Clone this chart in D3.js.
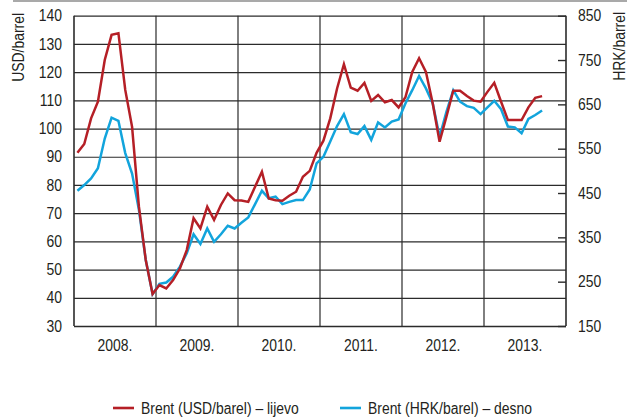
<!DOCTYPE html>
<html>
<head>
<meta charset="utf-8">
<script src="https://cdn.jsdelivr.net/npm/d3@7"></script>
<style>
  body { margin: 0; background: #fff; }
  text { font-family: 'Liberation Sans', Arial, sans-serif; fill: #231f20; }
</style>
</head>
<body>
<div id="chart"></div>
<script>
const years = ['2008.', '2009.', '2010.', '2011.', '2012.', '2013.']
const leftTicks = [30, 40, 50, 60, 70, 80, 90, 100, 110, 120, 130, 140]
const rightTicks = [150, 250, 350, 450, 550, 650, 750, 850]

// monthly averages, Jan 2008 - Sep 2013
const brentUsd = [
  91.4, 94.5, 103.6, 109.5, 124.3, 133.2, 133.8, 113.7, 100.6, 72.3, 53.4, 41.3,
  44.5, 43.3, 46.3, 50.4, 56.9, 68.2, 64.6, 72.3, 67.6, 72.9, 77.0, 74.6,
  74.5, 74.0, 79.4, 84.7, 75.2, 74.6, 74.4, 76.2, 77.6, 82.9, 85.0, 91.4,
  95.7, 103.6, 114.2, 122.8, 114.5, 113.4, 116.2, 109.8, 111.9, 109.3, 110.1, 107.5,
  111.1, 120.1, 124.9, 120.1, 108.9, 95.3, 104.2, 113.4, 113.4, 111.5, 109.9, 109.5,
  113.0, 116.2, 109.5, 103.0, 103.0, 103.0, 107.5, 110.9, 111.5
]
const brentHrk = [
  455, 468, 483, 506, 573, 620, 613, 540, 494, 412, 299, 222,
  245, 248, 261, 284, 314, 357, 335, 370, 340, 357, 376, 370,
  383, 395, 425, 455, 438, 442, 425, 430, 434, 434, 458, 517,
  532, 566, 601, 628, 587, 583, 601, 570, 609, 598, 611, 616,
  652, 682, 714, 686, 652, 577, 633, 682, 656, 646, 642, 628,
  643, 658, 639, 600, 598, 585, 617, 626, 636
]

// condensed look: Liberation Sans squeezed horizontally
const squeeze = 0.87

const margin = { top: 15.7, right: 72, bottom: 92, left: 74 }
const width = 638 - margin.left - margin.right
const height = 418 - margin.top - margin.bottom

const svg = d3.select('#chart')
  .append('svg')
  .attr('width', 638)
  .attr('height', 418)

// thin gray rule at the very top
svg.append('line')
  .attr('x1', 13).attr('x2', 627)
  .attr('y1', 1).attr('y2', 1)
  .attr('stroke', '#8c8c8c')
  .attr('stroke-width', 1.5)

const g = svg.append('g')
  .attr('transform', 'translate(' + margin.left + ',' + margin.top + ')')

const xScale = d3.scaleLinear().domain([0, years.length * 12]).range([0, width])
const yearScale = d3.scaleBand().domain(years).range([0, width])
const yLeft = d3.scaleLinear().domain([30, 140]).range([height, 0])
const yRight = d3.scaleLinear().domain([150, 850]).range([height, 0])

// left axis + horizontal grid
const leftAxis = d3.axisLeft(yLeft)
  .tickValues(leftTicks)
  .tickSize(-width)
  .tickPadding(12)
g.append('g').attr('class', 'y-axis').call(leftAxis)

// vertical year separators
g.append('g')
  .selectAll('line')
  .data(d3.range(years.length + 1))
  .enter()
  .append('line')
  .attr('x1', d => xScale(d * 12))
  .attr('x2', d => xScale(d * 12))
  .attr('y1', 0)
  .attr('y2', height)
  .attr('stroke', '#2b2b2b')
  .attr('stroke-width', d => (d === 0 || d === years.length) ? 1.6 : 1.2)

// right axis
const rightAxis = d3.axisRight(yRight)
  .tickValues(rightTicks)
  .tickSizeInner(-8)
  .tickSizeOuter(0)
  .tickPadding(12)
g.append('g')
  .attr('class', 'y-axis-right')
  .attr('transform', 'translate(' + width + ',0)')
  .call(rightAxis)

// year labels
const xAxis = d3.axisBottom(yearScale).tickSize(0).tickPadding(14)
g.append('g')
  .attr('class', 'x-axis')
  .attr('transform', 'translate(0,' + height + ')')
  .call(xAxis)

g.selectAll('.domain').remove()
g.selectAll('.y-axis .tick line')
  .attr('stroke', '#2b2b2b')
  .attr('stroke-width', d => d === 30 ? 1.6 : 1.2)
g.selectAll('.y-axis-right .tick line')
  .attr('stroke', '#2b2b2b')
  .attr('stroke-width', 1.4)
g.selectAll('.tick text')
  .attr('font-size', 16)
  .attr('font-family', null)
  .attr('fill', '#231f20')
  .attr('x', function() { return (+d3.select(this).attr('x') || 0) / squeeze })
  .attr('transform', 'scale(' + squeeze + ',1)')

// lines
const usdLine = d3.line()
  .x((d, i) => xScale(i + 0.5))
  .y(d => yLeft(d))
const hrkLine = d3.line()
  .x((d, i) => xScale(i + 0.5))
  .y(d => yRight(d))

g.append('path')
  .datum(brentHrk)
  .attr('fill', 'none')
  .attr('stroke', '#12a4dc')
  .attr('stroke-width', 2.5)
  .attr('d', hrkLine)

g.append('path')
  .datum(brentUsd)
  .attr('fill', 'none')
  .attr('stroke', '#b51f26')
  .attr('stroke-width', 2.5)
  .attr('d', usdLine)

// axis titles
svg.append('text')
  .attr('transform', 'translate(24,13) rotate(-90) scale(' + squeeze + ',1)')
  .attr('text-anchor', 'end')
  .attr('font-size', 16)
  .text('USD/barrel')

svg.append('text')
  .attr('transform', 'translate(625,12) rotate(-90) scale(' + squeeze + ',1)')
  .attr('text-anchor', 'end')
  .attr('font-size', 16)
  .text('HRK/barrel')

// legend
const legend = [
  { label: 'Brent (USD/barel) – lijevo', color: '#b51f26', x: 113 },
  { label: 'Brent (HRK/barel) – desno', color: '#12a4dc', x: 340 }
]
const items = svg.selectAll('.legend')
  .data(legend)
  .enter()
  .append('g')
  .attr('class', 'legend')
  .attr('transform', d => 'translate(' + d.x + ',408)')
items.append('line')
  .attr('x1', 0).attr('x2', 21)
  .attr('stroke', d => d.color)
  .attr('stroke-width', 2.6)
items.append('text')
  .attr('x', 28 / squeeze)
  .attr('dy', '0.35em')
  .attr('font-size', 16)
  .attr('transform', 'scale(' + squeeze + ',1)')
  .text(d => d.label)
</script>
</body>
</html>
